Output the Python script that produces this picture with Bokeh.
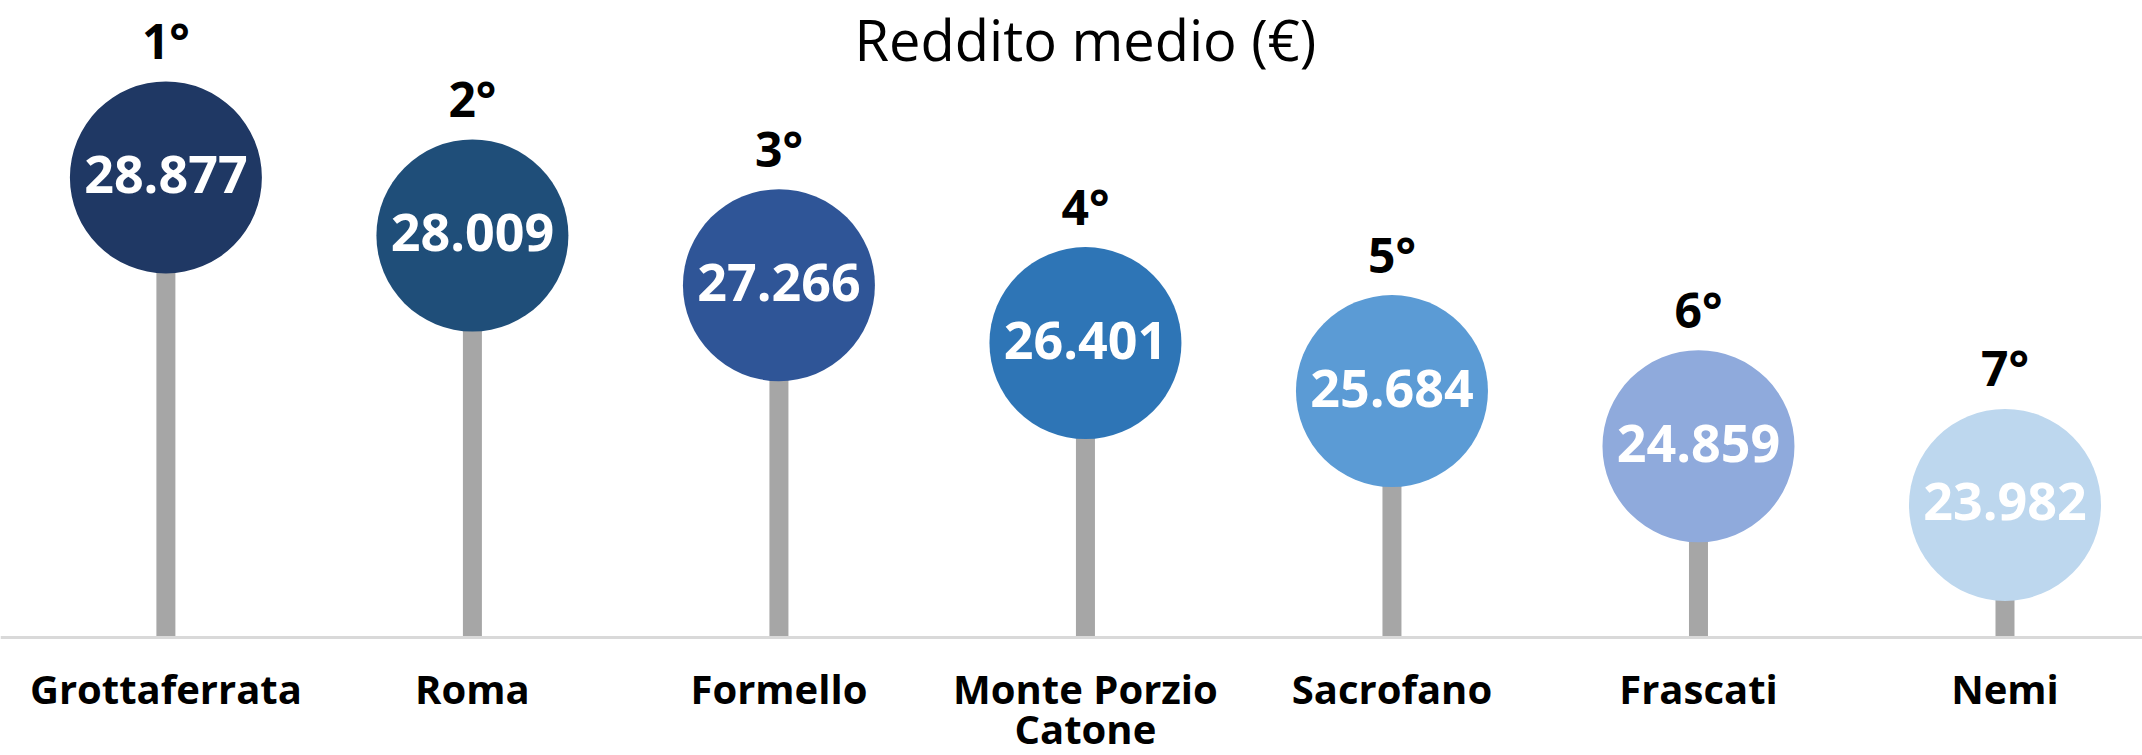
from bokeh.plotting import figure
from bokeh.models import Range1d, Span, ColumnDataSource
from bokeh.core.properties import value
from bokeh.embed import file_html
from bokeh.resources import INLINE

# ---- data ----
categories = ["Grottaferrata", "Roma", "Formello", "Monte Porzio\nCatone", "Sacrofano", "Frascati", "Nemi"]
incomes = [28877, 28009, 27266, 26401, 25684, 24859, 23982]
ranks = ["1°", "2°", "3°", "4°", "5°", "6°", "7°"]
value_labels = ["28.877", "28.009", "27.266", "26.401", "25.684", "24.859", "23.982"]
colors = ["#1F3864", "#1F4E79", "#2F5597", "#2E75B6", "#5B9BD5", "#8FAADC", "#BDD7EE"]
title_text = "Reddito medio (€)"
baseline_value = 22000

FONT = value("Open Sans")

xs = list(range(len(categories)))
line1 = [c.split("\n")[0] for c in categories]
line2 = [c.split("\n")[1] if "\n" in c else "" for c in categories]

src = ColumnDataSource(dict(
    x=xs, y=incomes, base=[baseline_value] * len(xs), color=colors,
    rank=ranks, vlab=value_labels, l1=line1, l2=line2,
))

Y_TOP = 31522
p = figure(width=2142, height=755, output_backend="svg", toolbar_location=None,
           x_range=Range1d(-0.5396, 6.4486), y_range=Range1d(20236, Y_TOP),
           min_border=0, x_axis_location=None, y_axis_location=None,
           outline_line_color=None, background_fill_color="white")
p.xgrid.visible = False
p.ygrid.visible = False

# baseline
p.add_layout(Span(location=baseline_value, dimension="width", line_color="#D9D9D9", line_width=3))

# stems
p.segment(x0="x", y0="base", x1="x", y1="y", source=src, line_color="#A6A6A6",
          line_width=19, line_cap="butt")

# circles
p.scatter(x="x", y="y", source=src, marker="circle", size=192, fill_color="color", line_color=None)

# value labels
p.text(x="x", y="y", text="vlab", source=src, text_font=FONT, text_font_style="bold",
       text_font_size="52px", text_color="white", text_align="center",
       text_baseline="alphabetic", y_offset=-3)

# rank labels
p.text(x="x", y="y", text="rank", source=src, text_font=FONT, text_font_style="bold",
       text_font_size="48px", text_color="black", text_align="center",
       text_baseline="alphabetic", y_offset=-137)

# category labels
p.text(x="x", y="base", text="l1", source=src, text_font=FONT, text_font_style="bold",
       text_font_size="40px", text_color="black", text_align="center",
       text_baseline="alphabetic", y_offset=51)
p.text(x="x", y="base", text="l2", source=src, text_font=FONT, text_font_style="bold",
       text_font_size="40px", text_color="black", text_align="center",
       text_baseline="alphabetic", y_offset=91)

# title, centred over the middle category
p.text(x=[sum(xs) / len(xs)], y=[Y_TOP], text=[title_text], text_font=FONT,
       text_font_size="56px", text_color="black", text_align="center",
       text_baseline="alphabetic", y_offset=38)

open("out.html", "w").write(file_html(p, INLINE))
